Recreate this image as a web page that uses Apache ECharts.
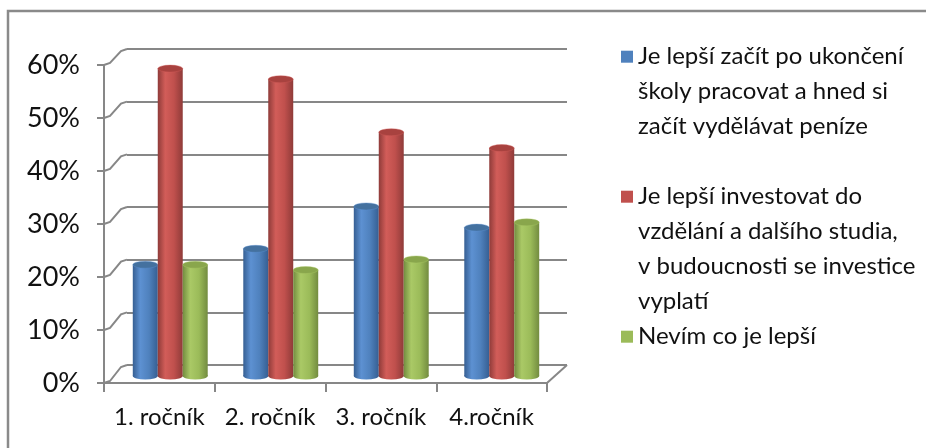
<!DOCTYPE html>
<html>
<head>
<meta charset="utf-8">
<script src="https://cdn.jsdelivr.net/npm/echarts@6/dist/echarts.min.js"></script>
<style>
html,body{margin:0;padding:0;background:#fff;}
#chart{width:926px;height:448px;}
</style>
</head>
<body>
<div id="chart"></div>
<script>
// ---- data ----
const categories = ['1. ročník', '2. ročník', '3. ročník', '4.ročník'];
const seriesNames = [
  'Je lepší začít po ukončení školy pracovat a hned si začít vydělávat peníze',
  'Je lepší investovat do vzdělání a dalšího studia, v budoucnosti se investice vyplatí',
  'Nevím co je lepší'
];
const legendLines = [
  ['Je lepší začít po ukončení', 'školy pracovat a hned si', 'začít vydělávat peníze'],
  ['Je lepší investovat do', 'vzdělání a dalšího studia,', 'v budoucnosti se investice', 'vyplatí'],
  ['Nevím co je lepší']
];
const valuesWork   = [21, 24, 32, 28];
const valuesStudy  = [58, 56, 46, 43];
const valuesUnsure = [21, 20, 22, 29];
const yMin = 0, yMax = 60, yStep = 10;
const yTickValues = [0, 10, 20, 30, 40, 50, 60];

// ---- style ----
const FONT = 'Lato';
const GRID_COLOR = '#878787';
const palettes = [
  {base: '#4F81BD', light: '#5d91d2', dark: '#365f93', cap: '#44719f'},
  {base: '#C0504D', light: '#d25d59', dark: '#8f3b39', cap: '#a8423f'},
  {base: '#9BBB59', light: '#aac966', dark: '#738c40', cap: '#89a64c'}
];
const allValues = [valuesWork, valuesStudy, valuesUnsure];

const chart = echarts.init(document.getElementById('chart'), null, {renderer: 'canvas'});

function grad(p) {
  return {type: 'linear', x: 0, y: 0, x2: 1, y2: 0, colorStops: [
    {offset: 0, color: p.dark}, {offset: 0.3, color: p.light},
    {offset: 0.65, color: p.base}, {offset: 1, color: p.dark}
  ]};
}

function renderCylinder(params, api) {
  const p = palettes[params.seriesIndex];
  const top = api.coord([api.value(0), api.value(1)]);
  const bot = api.coord([api.value(0), 0]);
  const band = api.size([1, 0])[0];
  const w = band * 0.226;
  const cx = top[0] + (params.seriesIndex - 1) * w;
  const ry = 3.5;
  const r = w / 2;
  return {
    type: 'group',
    children: [
      {type: 'circle', x: cx, y: bot[1], scaleY: ry / r, shape: {cx: 0, cy: 0, r: r}, style: {fill: grad(p)}},
      {type: 'rect', shape: {x: cx - r, y: top[1], width: w, height: bot[1] - top[1]}, style: {fill: grad(p)}},
      {type: 'circle', x: cx, y: top[1], scaleY: ry / r, shape: {cx: 0, cy: 0, r: r}, style: {fill: p.cap, stroke: p.light, lineWidth: 0.6}}
    ]
  };
}

const legendTops = [56.7, 196.7, 336.7];
const LH = 35;
const legends = legendLines.map((lines, i) => ({
  data: [seriesNames[i]],
  left: 621,
  top: legendTops[i] - (2 * lines.length - 1) * LH / 2,
  orient: 'vertical',
  padding: 0,
  itemWidth: 12,
  itemHeight: 12,
  icon: 'rect',
  formatter: function () { return '\n'.repeat(lines.length - 1) + lines.join('\n'); },
  textStyle: {fontFamily: FONT, fontSize: 24, lineHeight: LH, color: '#111'}
}));

const option = {
  animation: false,
  backgroundColor: '#fff',
  legend: legends,
  grid: [
    {left: 127, top: 49, width: 440, height: 316},   // back wall
    {left: 115, top: 58, width: 442, height: 318},   // bars (mid depth)
    {left: 104, top: 65, width: 443, height: 318}    // front axes
  ],
  xAxis: [
    {gridIndex: 0, type: 'category', data: categories, show: false},
    {gridIndex: 1, type: 'category', data: categories, show: false},
    {gridIndex: 2, type: 'category', data: categories,
      axisLine: {lineStyle: {color: GRID_COLOR, width: 2}},
      axisTick: {show: true, length: 9, interval: 0, lineStyle: {color: GRID_COLOR, width: 2}},
      axisLabel: {margin: 22, interval: 0, fontFamily: FONT, fontSize: 24, color: '#111'},
      splitLine: {show: false}}
  ],
  yAxis: [
    {gridIndex: 0, type: 'value', min: yMin, max: yMax, interval: yStep,
      axisLine: {show: false}, axisTick: {show: false}, axisLabel: {show: false},
      splitLine: {show: true, lineStyle: {color: GRID_COLOR, width: 2}}},
    {gridIndex: 1, type: 'value', min: yMin, max: yMax, interval: yStep, show: false, splitLine: {show: false}},
    {gridIndex: 2, type: 'value', min: yMin, max: yMax, interval: yStep,
      axisLine: {show: true, lineStyle: {color: GRID_COLOR, width: 2}},
      axisTick: {show: true, length: 7, lineStyle: {color: GRID_COLOR, width: 2}},
      axisLabel: {margin: 24, formatter: '{value}%', fontFamily: FONT, fontSize: 27, color: '#111'},
      splitLine: {show: false}}
  ],
  series: allValues.map((vals, i) => ({
    name: seriesNames[i],
    type: 'custom',
    xAxisIndex: 1,
    yAxisIndex: 1,
    itemStyle: {color: palettes[i].base},
    renderItem: renderCylinder,
    data: vals.map((v, k) => [k, v]),
    z: 5
  }))
};
chart.setOption(option);

// 3D perspective connectors (left wall, floor edge), derived from the axes
const frontX = 104, backX = 127, frontRight = 547, backRight = 567;
const g = [];
yTickValues.forEach(v => {
  const yf = chart.convertToPixel({yAxisIndex: 2}, v);
  const yb = chart.convertToPixel({yAxisIndex: 0}, v);
  g.push({type: 'polyline', silent: true, z: 1,
    shape: {points: [[frontX, yf], [frontX + 6, yf - 2], [backX - 6, yb + 2], [backX, yb]]},
    style: {stroke: GRID_COLOR, lineWidth: 2, fill: null}});
});
const yf0 = chart.convertToPixel({yAxisIndex: 2}, 0);
const yb0 = chart.convertToPixel({yAxisIndex: 0}, 0);
g.push({type: 'line', silent: true, z: 1,
  shape: {x1: frontRight, y1: yf0, x2: backRight, y2: yb0},
  style: {stroke: GRID_COLOR, lineWidth: 2}});
g.push({type: 'rect', silent: true, z: 0,
  shape: {x: 8, y: 11, width: 940, height: 460},
  style: {fill: null, stroke: '#8a8a8a', lineWidth: 2.5}});
chart.setOption({graphic: g});
</script>
</body>
</html>
